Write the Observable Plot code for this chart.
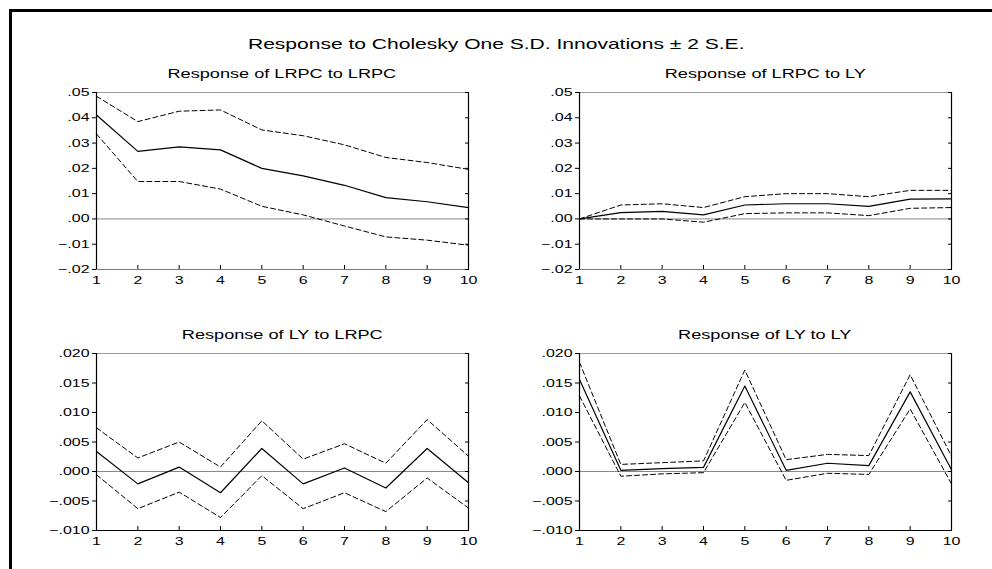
<!DOCTYPE html>
<html>
<head>
<meta charset="utf-8">
<script src="https://cdn.jsdelivr.net/npm/d3@7"></script>
<script src="https://cdn.jsdelivr.net/npm/@observablehq/plot@0.6"></script>
<style>
  body { margin: 0; background: #fff; }
  #wrap { position: relative; width: 992px; height: 569px; overflow: hidden; background: #fff;
          font-family: Arial, "Liberation Sans", sans-serif; color: #000; }
  .bt { position: absolute; left: 9px; top: 9px; width: 983px; height: 3px; background: #000; }
  .bl { position: absolute; left: 9px; top: 9px; width: 3px; height: 560px; background: #000; }
  .ttl { position: absolute; text-align: center; line-height: 1; white-space: nowrap; }
  .ttl span { display: inline-block; transform: scaleX(1.45); transform-origin: 50% 50%; }
  .panel { position: absolute; }
</style>
</head>
<body>
<div id="wrap">
  <div class="bt"></div>
  <div class="bl"></div>
</div>
<script>
// ---- data ----
const periods = [1, 2, 3, 4, 5, 6, 7, 8, 9, 10];

const lrpcToLrpc      = [0.0411, 0.0267, 0.0285, 0.0273, 0.0200, 0.0170, 0.0133, 0.0084, 0.0068, 0.0045];
const lrpcToLrpcUpper = [0.0485, 0.0385, 0.0426, 0.0431, 0.0352, 0.0329, 0.0293, 0.0243, 0.0223, 0.0196];
const lrpcToLrpcLower = [0.0336, 0.0148, 0.0148, 0.0118, 0.0050, 0.0016, -0.0028, -0.0071, -0.0084, -0.0104];

const lrpcToLy        = [0.0000, 0.0025, 0.0030, 0.0016, 0.0055, 0.0060, 0.0060, 0.0050, 0.0078, 0.0079];
const lrpcToLyUpper   = [0.0000, 0.0055, 0.0060, 0.0045, 0.0088, 0.0100, 0.0100, 0.0088, 0.0113, 0.0113];
const lrpcToLyLower   = [0.0000, 0.0000, 0.0000, -0.0013, 0.0021, 0.0024, 0.0024, 0.0013, 0.0042, 0.0045];

const lyToLrpc        = [0.0034, -0.0021, 0.00075, -0.0036, 0.0039, -0.0021, 0.0006, -0.0028, 0.0039, -0.0019];
const lyToLrpcUpper   = [0.0074, 0.0023, 0.0050, 0.00075, 0.0086, 0.0021, 0.0047, 0.0014, 0.0088, 0.0026];
const lyToLrpcLower   = [-0.00055, -0.0063, -0.0035, -0.0078, -0.0007, -0.0063, -0.0036, -0.0068, -0.0011, -0.0062];

const lyToLy          = [0.0156, 0.0002, 0.0005, 0.0007, 0.0145, 0.0002, 0.0014, 0.0010, 0.0135, 0.0003];
const lyToLyUpper     = [0.0185, 0.0012, 0.0015, 0.0018, 0.0172, 0.0020, 0.0029, 0.0027, 0.0164, 0.0026];
const lyToLyLower     = [0.0128, -0.0008, -0.0004, -0.0002, 0.0117, -0.0015, -0.0003, -0.0005, 0.0106, -0.0021];

const lrpcTicks = [-0.02, -0.01, 0.00, 0.01, 0.02, 0.03, 0.04, 0.05];
const lyTicks   = [-0.010, -0.005, 0.000, 0.005, 0.010, 0.015, 0.020];

const mainTitle = "Response to Cholesky One S.D. Innovations \u00b1 2 S.E.";
const panelTitles = ["Response of LRPC to LRPC", "Response of LRPC to LY",
                     "Response of LY to LRPC", "Response of LY to LY"];

// ---- helpers ----
const fmt2 = d => d3.format(".2f")(d).replace("0.", ".");
const fmt3 = d => d3.format(".3f")(d).replace("0.", ".");
const STRETCH = 1.45;

function stretchText(svg, k) {
  svg.querySelectorAll("text").forEach(t => {
    const xa = t.getAttribute("x");
    let x = 0;
    if (xa !== null && xa !== "" && !isNaN(+xa)) { x = +xa; t.removeAttribute("x"); }
    const tr = t.getAttribute("transform") || "";
    t.setAttribute("transform", `${tr} translate(${x},0) scale(${k},1)`);
  });
}

function panel(resp, up, lo, ticks, fmt, bottomColor) {
  const rows = periods.map((p, i) => ({p, v: resp[i], u: up[i], l: lo[i]}));
  const dom = [ticks[0], ticks[ticks.length - 1]];
  const svg = Plot.plot({
    width: 442, height: 207,
    marginLeft: 50, marginRight: 20, marginTop: 6, marginBottom: 24,
    style: {fontFamily: 'Arial, "Liberation Sans", sans-serif', fontSize: "11px", background: "transparent", color: "#000", overflow: "visible"},
    x: {domain: [periods[0], periods[periods.length - 1]], label: null},
    y: {domain: dom, label: null},
    marks: [
      Plot.ruleY([0], {stroke: "#888", strokeWidth: 1}),
      Plot.ruleY([dom[1]], {stroke: "#999", strokeWidth: 1.2}),
      Plot.ruleY([dom[0]], {stroke: bottomColor, strokeWidth: 1.2}),
      Plot.ruleX([periods[0], periods[periods.length - 1]], {stroke: "#000", strokeWidth: 1.2}),
      Plot.axisY(ticks, {anchor: "left", tickSize: 4, tickPadding: 3, tickFormat: fmt, label: null}),
      Plot.axisY(ticks, {anchor: "right", tickSize: 4, dx: -4, tickFormat: () => "", label: null}),
      Plot.axisX(periods, {anchor: "bottom", tickSize: 4, dy: -4, tickFormat: () => "", label: null, stroke: "#000"}),
      Plot.axisX(periods, {anchor: "bottom", tickSize: 0, tickPadding: 7, tickFormat: d => String(d), label: null}),
      Plot.line(rows, {x: "p", y: "u", stroke: "#000", strokeWidth: 1, strokeDasharray: "5,3"}),
      Plot.line(rows, {x: "p", y: "l", stroke: "#000", strokeWidth: 1, strokeDasharray: "5,3"}),
      Plot.line(rows, {x: "p", y: "v", stroke: "#000", strokeWidth: 1.2})
    ]
  });
  stretchText(svg, STRETCH);
  return svg;
}

const wrap = document.getElementById("wrap");

function addTitle(text, cx, top, size) {
  const d = document.createElement("div");
  d.className = "ttl";
  d.style.left = (cx - 300) + "px";
  d.style.width = "600px";
  d.style.top = top + "px";
  d.style.fontSize = size + "px";
  const s = document.createElement("span");
  s.textContent = text;
  d.appendChild(s);
  wrap.appendChild(d);
}

addTitle(mainTitle, 496, 37, 14.5);

const specs = [
  {r: lrpcToLrpc, u: lrpcToLrpcUpper, l: lrpcToLrpcLower, t: lrpcTicks, f: fmt2, left: 46,  top: 86,  bc: "#777"},
  {r: lrpcToLy,   u: lrpcToLyUpper,   l: lrpcToLyLower,   t: lrpcTicks, f: fmt2, left: 529, top: 86,  bc: "#777"},
  {r: lyToLrpc,   u: lyToLrpcUpper,   l: lyToLrpcLower,   t: lyTicks,   f: fmt3, left: 46,  top: 347, bc: "#000"},
  {r: lyToLy,     u: lyToLyUpper,     l: lyToLyLower,     t: lyTicks,   f: fmt3, left: 529, top: 347, bc: "#000"}
];

specs.forEach((s, i) => {
  const svg = panel(s.r, s.u, s.l, s.t, s.f, s.bc);
  const holder = document.createElement("div");
  holder.className = "panel";
  holder.style.left = s.left + "px";
  holder.style.top = s.top + "px";
  holder.appendChild(svg);
  wrap.appendChild(holder);
  addTitle(panelTitles[i], s.left + 50 + 186, s.top - 18, 12.5);
});
</script>
</body>
</html>
